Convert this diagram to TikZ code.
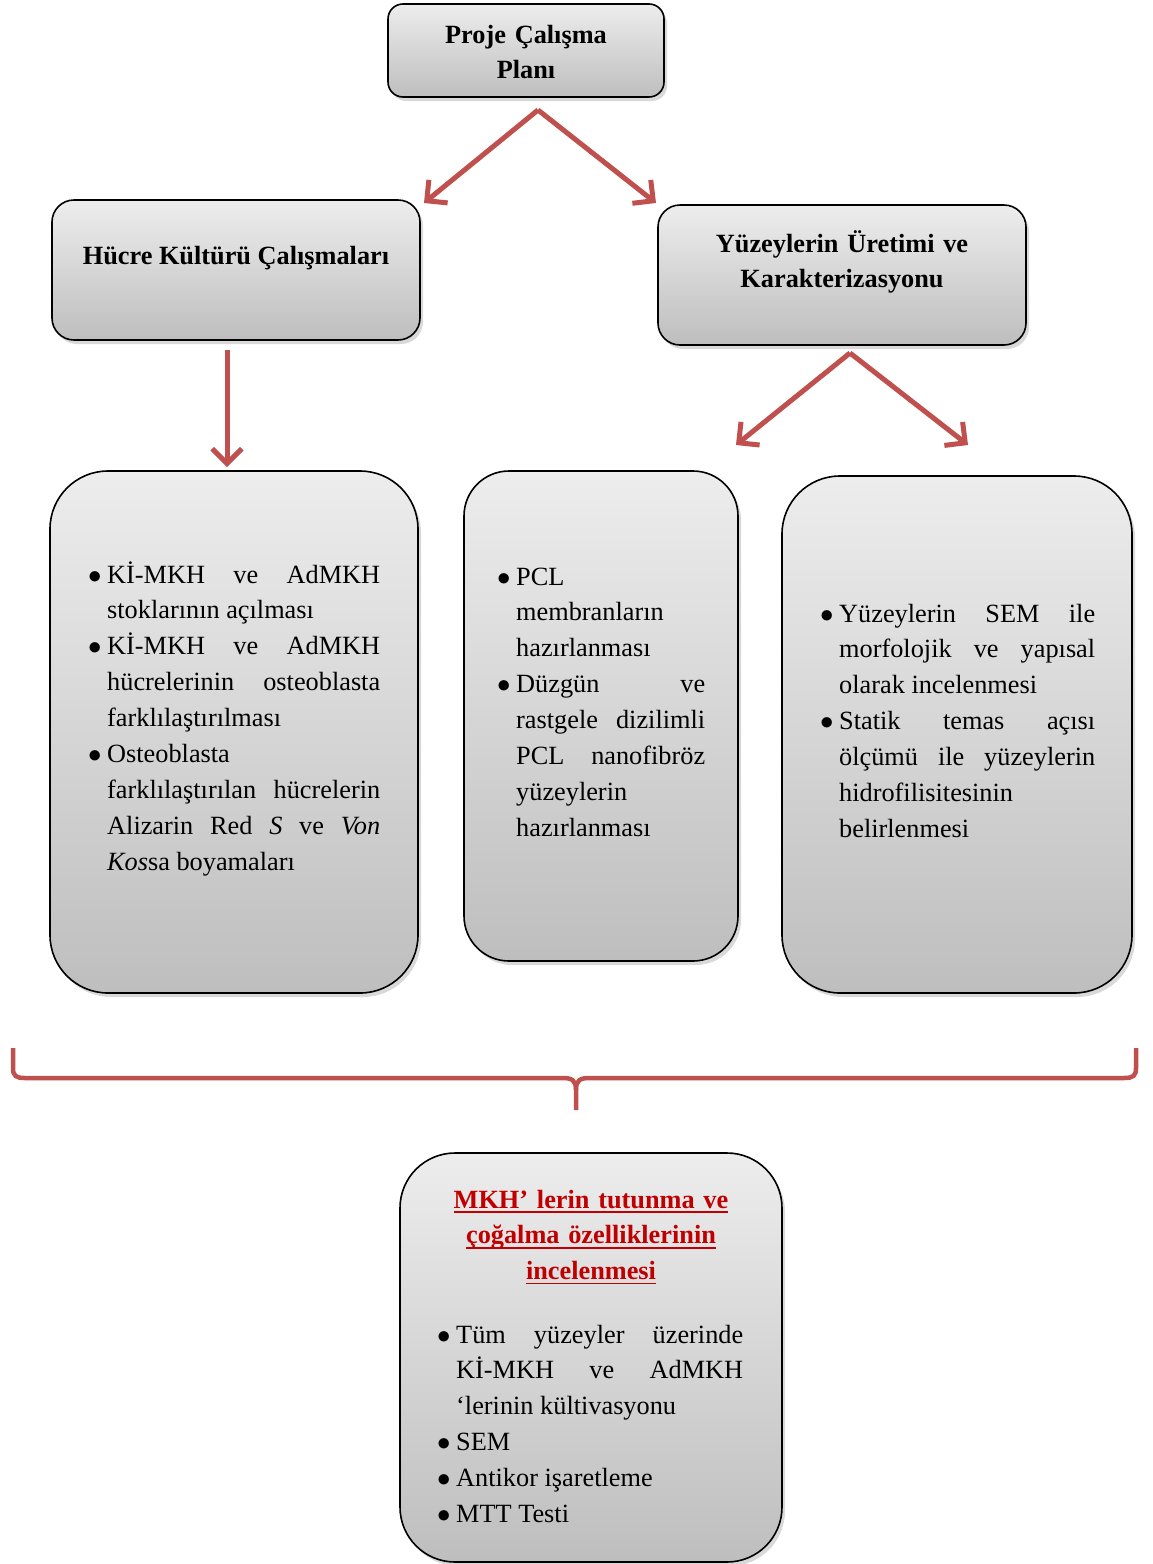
\documentclass[tikz,border=0pt]{standalone}
\usepackage{fontspec}
\setmainfont{Liberation Serif}
\usetikzlibrary{arrows.meta, shadows}

\definecolor{okkirmizi}{RGB}{192,80,77}
\definecolor{baslikkirmizi}{RGB}{192,0,0}
\definecolor{gradust}{RGB}{237,237,237}
\definecolor{gradalt}{RGB}{190,190,190}

\tolerance=10000 \hbadness=10000
\hyphenpenalty=10000 \exhyphenpenalty=10000

\newcommand{\yazi}{\fontsize{26.3}{35.9}\selectfont}
\newcommand{\madde}[1]{\noindent\hangindent=19pt\hangafter=1%
  \makebox[19pt][l]{\scalebox{1.08}{$\bullet$}}#1\par}
\newsavebox{\altkutu}
\newcommand{\altciz}[1]{\leavevmode\sbox{\altkutu}{#1}%
  \rlap{\rule[-4.6pt]{\wd\altkutu}{1.8pt}}\usebox{\altkutu}}

\tikzset{
  kutu/.style={draw=black, line width=1.6pt, top color=gradust, bottom color=gradalt,
    drop shadow={shadow xshift=3pt, shadow yshift=-4pt, opacity=.3}, inner sep=0pt},
  baslik/.style={font=\yazi\bfseries, align=center, anchor=base, inner sep=0pt},
  liste/.style={font=\yazi, align=justify, anchor=base west, inner sep=0pt},
  ok/.style={draw=okkirmizi, line width=5pt, -{Straight Barb[angle=90:21pt]}},
  parantez/.style={draw=okkirmizi, line width=4.5pt}
}

\begin{document}
\begin{tikzpicture}[x=1pt, y=-1pt]
\useasboundingbox (0,0) rectangle (1153,1564);
% Boxes
\node [kutu, rounded corners=15pt, minimum width=276pt, minimum height=93pt] (plan) at (526,50.5) {};
\node [kutu, rounded corners=22pt, minimum width=368pt, minimum height=140pt] (hucre) at (236,270) {};
\node [kutu, rounded corners=22pt, minimum width=368pt, minimum height=140pt] (yuzey) at (842,275) {};
\node [kutu, rounded corners=58pt, minimum width=368pt, minimum height=522pt] (hucreKutu) at (234,732) {};
\node [kutu, rounded corners=45pt, minimum width=274pt, minimum height=490pt] (uretimKutu) at (601,716) {};
\node [kutu, rounded corners=58pt, minimum width=350pt, minimum height=517pt] (karakterKutu) at (957,734.5) {};
\node [kutu, rounded corners=55pt, minimum width=382pt, minimum height=409pt] (sonuc) at (591,1357.5) {};
% Headings
\node [baslik, text width=260pt] (planYazi) at (526,43) {Proje Çalışma\\Planı};
\node [baslik] (hucreYazi) at (236,264) {Hücre Kültürü Çalışmaları};
\node [baslik, text width=360pt] (yuzeyYazi) at (842,252) {Yüzeylerin Üretimi ve\\Karakterizasyonu};
\node [baslik, text width=340pt, text=baslikkirmizi] (sonucBaslik) at (591,1208)
  {\altciz{MKH’ lerin tutunma ve}\\\altciz{çoğalma özelliklerinin}\\\altciz{incelenmesi}};
% Lists
\node [liste, text width=292pt] (hucreListe) at (88,583) {%
  \madde{Kİ-MKH ve AdMKH \linebreak stoklarının açılması}
  \madde{Kİ-MKH ve AdMKH \linebreak hücrelerinin osteoblasta \linebreak farklılaştırılması}
  \madde{Osteoblasta \linebreak farklılaştırılan hücrelerin \linebreak Alizarin Red \textit{S} ve \textit{Von} \linebreak \textit{Kos}sa boyamaları}};
\node [liste, text width=208pt] (uretimListe) at (497,585) {%
  \madde{PCL \linebreak membranların \linebreak hazırlanması}
  \madde{Düzgün ve \linebreak rastgele dizilimli \linebreak PCL nanofibröz \linebreak yüzeylerin \linebreak hazırlanması}};
\node [liste, text width=275pt] (karakterListe) at (820,622) {%
  \madde{Yüzeylerin SEM ile \linebreak morfolojik ve yapısal \linebreak olarak incelenmesi}
  \madde{Statik temas açısı \linebreak ölçümü ile yüzeylerin \linebreak hidrofilisitesinin \linebreak belirlenmesi}};
\node [liste, text width=306pt] (sonucListe) at (437,1343) {%
  \madde{Tüm yüzeyler üzerinde \linebreak Kİ-MKH ve AdMKH \linebreak ‘lerinin kültivasyonu}
  \madde{SEM}
  \madde{Antikor işaretleme}
  \madde{MTT Testi}};
% Arrows
\coordinate (planUc) at (538,110);
\coordinate (planSol) at (424,203);
\coordinate (planSag) at (656,203);
\coordinate (hucreUc) at (227,350);
\coordinate (hucreAlt) at (227,467);
\coordinate (yuzeyUc) at (850,353);
\coordinate (yuzeySol) at (736,445);
\coordinate (yuzeySag) at (968,445);
\draw [ok] (planUc) -- (planSol);
\draw [ok] (planUc) -- (planSag);
\draw [ok] (hucreUc) -- (hucreAlt);
\draw [ok] (yuzeyUc) -- (yuzeySol);
\draw [ok] (yuzeyUc) -- (yuzeySag);
% Brace
\coordinate (parantezSol) at (13,1048);
\coordinate (parantezSag) at (1136,1048);
\coordinate (parantezUc) at (576,1110);
\draw [parantez] (parantezSol) -- (13,1068) .. controls (13,1076) and (16,1078) .. (25,1078)
  -- (562,1078) .. controls (572,1078) and (576,1080) .. (576,1090) -- (parantezUc);
\draw [parantez] (parantezSag) -- (1136,1068) .. controls (1136,1076) and (1133,1078) .. (1124,1078)
  -- (590,1078) .. controls (580,1078) and (576,1080) .. (576,1090);
\end{tikzpicture}
\end{document}
